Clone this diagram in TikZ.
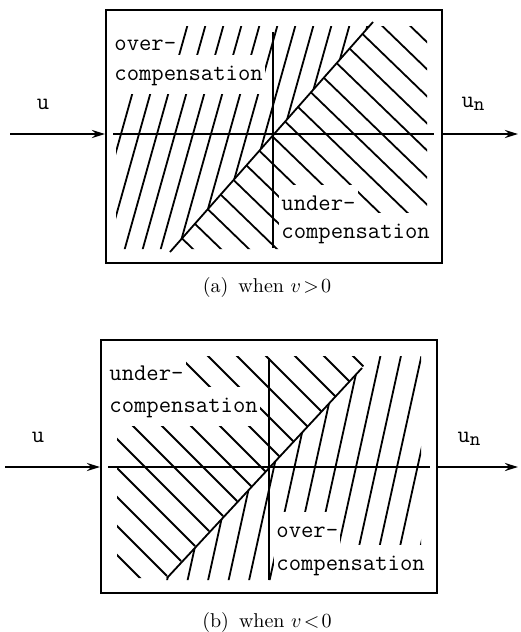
\documentclass[tikz,border=0pt]{standalone}
\usetikzlibrary{arrows.meta}

\begin{document}
\begin{tikzpicture}[x=0.5pt, y=-0.5pt, >={Stealth[length=6.5pt,width=4pt]},
  every node/.style={font=\fontsize{12}{14}\ttfamily},
  frame/.style={draw, line width=1pt, minimum width=168pt, minimum height=126.5pt, inner sep=0pt},
  hatch/.style={line width=0.9pt},
  mask/.style={fill=white, inner xsep=1pt, inner ysep=4.5pt, text height=8pt, text depth=2.5pt, anchor=base west},
  signal/.style={->, line width=1.1pt},
  capt/.style={font=\fontsize{10}{12}\selectfont, anchor=base}]
  \useasboundingbox (0,0) rectangle (520,632);

  % (a) v > 0
  \node[frame] (boxa) at (274,136.5) {};
  \begin{scope}
    \clip (116,26) -- (369.5,26) -- (172.6,249) -- (116,249) -- cycle;
    \foreach \c in {121,139,...,391}
      \draw[hatch] (\c+39,-5) -- (\c-39,273);
  \end{scope}
  \begin{scope}
    \clip (369.5,26) -- (427,26) -- (427,249) -- (172.6,249) -- cycle;
    \foreach \c in {74,102,...,550}
      \draw[hatch] (\c-180,-40) -- (\c+180,308);
  \end{scope}
  \node[mask] (overa) at (112,50) {over-};
  \node[mask] (compa) at (112,80) {compensation};
  \node[mask] (undera) at (279,210) {under-};
  \node[mask] (compb) at (279,238) {compensation};
  \draw[line width=0.6pt] (273,32) -- (273,248);
  \draw[line width=0.7pt] (113,134) -- (434,134);
  \draw[hatch] (170,252) -- (373,22);
  \coordinate (ina) at (10,134);
  \coordinate (outa) at (518,134);
  \draw[signal] (ina) -- (ina -| boxa.west);
  \draw[signal] (outa -| boxa.east) -- (outa);
  \node (ua) at (43,104) {u};
  \node (una) at (473,104) {u\raisebox{-1.5pt}{\fontsize{10}{12}\selectfont n}};
  \node[capt] (capa) at (267,292) {(a)\enspace when $v\!>\!0$};

  % (b) v < 0
  \node[frame] (boxb) at (269,466.5) {};
  \begin{scope}
    \clip (117,356) -- (373.1,356) -- (165.1,578) -- (117,578) -- cycle;
    \foreach \c in {0,29,...,493}
      \draw[hatch] (\c-200,267) -- (\c+200,667);
  \end{scope}
  \begin{scope}
    \clip (373.1,356) -- (421,356) -- (421,580) -- (165.1,580) -- cycle;
    \foreach \c in {192,212.5,...,440}
      \draw[hatch] (\c+28.6,337) -- (\c-28.6,597);
  \end{scope}
  \node[mask] (underb) at (107,380) {under-};
  \node[mask] (compc) at (107,412) {compensation};
  \node[mask] (overb) at (274,537) {over-};
  \node[mask] (compd) at (274,570) {compensation};
  \draw[line width=0.6pt] (269,358) -- (269,580);
  \draw[line width=0.7pt] (108,467) -- (430,467);
  \draw[hatch] (167,578) -- (362,368);
  \coordinate (inb) at (5,467);
  \coordinate (outb) at (518,467);
  \draw[signal] (inb) -- (inb -| boxb.west);
  \draw[signal] (outb -| boxb.east) -- (outb);
  \node (ub) at (38,437) {u};
  \node (unb) at (469,439) {u\raisebox{-1.5pt}{\fontsize{10}{12}\selectfont n}};
  \node[capt] (capb) at (267,627) {(b)\enspace when $v\!<\!0$};
\end{tikzpicture}
\end{document}
